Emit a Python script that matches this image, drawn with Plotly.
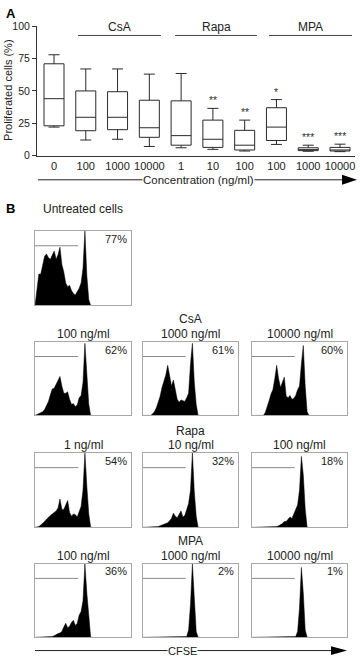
import plotly.graph_objects as go

W, H = 360, 660
FONT = "Liberation Sans, Arial, sans-serif"
INK = "#222222"

# ---------------- Panel A data ----------------
conc_labels = ["0", "100", "1000", "10000", "1", "10", "100", "100", "1000", "10000"]
box_min = [22, 12, 12.6, 7, 6, 4.8, 3.5, 8.6, 3.3, 3]
box_q1 = [23, 19.2, 20, 14.1, 8, 6.3, 4.3, 11.6, 3.8, 3.5]
box_median = [44, 29.6, 29.6, 21.5, 15.4, 12.6, 8, 22, 4.3, 4.3]
box_q3 = [71, 50, 49.4, 42.8, 42.3, 27.4, 19.5, 37, 6, 6.3]
box_max = [78, 67, 67, 63, 63.5, 36.5, 27.4, 43.3, 8, 8.8]
significance = ["", "", "", "", "", "**", "**", "*", "***", "***"]
y_ticks = [0, 25, 50, 75, 100]
groups = ["CsA", "Rapa", "MPA"]

# ---------------- Panel B data ----------------
cfse_bins = [0, 2, 4, 6, 8, 10, 12, 14, 16, 18, 20, 22, 24, 26, 28, 30,
             32, 34, 36, 38, 40, 42, 44, 46, 48, 50, 52, 54, 56, 58, 60]
hist_untreated = [0, 25, 42, 42, 55, 66, 69, 64, 62, 68, 73, 62, 68, 78, 55, 45,
                  30, 25, 27, 20, 16, 14, 18, 23, 30, 50, 100, 40, 8, 0, 0]
hist_csa_100 = [0, 1, 2, 3, 5, 8, 13, 19, 28, 36, 37, 42, 46, 53, 40, 30,
                30, 32, 22, 15, 16, 12, 14, 24, 27, 45, 98, 50, 15, 0, 0]
hist_csa_1000 = [0, 0, 0, 0, 0, 2, 5, 10, 17, 26, 38, 46, 55, 68, 55, 40,
                 48, 36, 22, 18, 21, 20, 19, 24, 30, 70, 98, 45, 15, 0, 0]
hist_csa_10000 = [0, 0, 0, 0, 0, 0, 0, 4, 11, 20, 29, 35, 50, 68, 50, 38,
                  45, 52, 26, 24, 27, 22, 23, 27, 35, 40, 70, 95, 40, 5, 0]
hist_rapa_1 = [0, 0, 1, 3, 5, 8, 11, 14, 16, 18, 20, 22, 26, 38, 24, 24,
               30, 36, 20, 15, 18, 17, 14, 21, 28, 50, 100, 55, 18, 0, 0]
hist_rapa_10 = [0, 0, 0, 0, 0, 0, 0, 0, 1, 2, 3, 4, 5, 6, 9, 12,
                19, 15, 13, 18, 22, 14, 16, 24, 32, 50, 100, 48, 15, 0, 0]
hist_rapa_100 = [0, 0, 0, 0, 0, 0, 0, 0, 0, 0, 0, 0, 1, 1, 2, 3,
                 5, 8, 8, 11, 14, 12, 18, 22, 30, 50, 95, 70, 25, 0, 0]
hist_mpa_100 = [0, 0, 0, 0, 0, 0, 0, 0, 0, 1, 2, 4, 5, 6, 8, 14,
                19, 13, 15, 20, 23, 16, 19, 30, 35, 50, 100, 60, 25, 0, 0]
hist_mpa_1000 = [0, 0, 0, 0, 0, 0, 0, 0, 0, 0, 0, 0, 0, 0, 0, 0,
                 0, 0, 0, 0, 0, 0, 0, 1, 10, 45, 100, 50, 8, 0, 0]
hist_mpa_10000 = [0, 0, 0, 0, 0, 0, 0, 0, 0, 0, 0, 0, 0, 0, 0, 0,
                  0, 0, 0, 0, 0, 0, 0, 1, 8, 40, 95, 60, 10, 0, 0]
hist_percent = ["77%", "62%", "61%", "60%", "54%", "32%", "18%", "36%", "2%", "1%"]
hist_titles = ["Untreated cells", "100 ng/ml", "1000 ng/ml", "10000 ng/ml",
               "1 ng/ml", "10 ng/ml", "100 ng/ml", "100 ng/ml", "1000 ng/ml", "10000 ng/ml"]
histograms = [hist_untreated, hist_csa_100, hist_csa_1000, hist_csa_10000,
              hist_rapa_1, hist_rapa_10, hist_rapa_100,
              hist_mpa_100, hist_mpa_1000, hist_mpa_10000]


def px_x(p):
    return p / W


def px_y(p):
    return 1 - p / H


fig = go.Figure()
annotations = []
shapes = []

# ---------------- Panel A layout ----------------
ax_left, ax_right = 37, 355
ax_top, ax_bottom = 20.7, 152.3
first_px, last_px = 54, 340
n = len(conc_labels)
unit = (last_px - first_px) / (n - 1)
x_range = [-(first_px - ax_left) / unit, (n - 1) + (ax_right - last_px) / unit]
positions = list(range(n))

fig.add_trace(go.Box(
    x=positions, q1=box_q1, median=box_median, q3=box_q3,
    lowerfence=box_min, upperfence=box_max,
    width=20 / unit, whiskerwidth=0.55,
    line=dict(color="#2a2a2a", width=1), fillcolor="white",
    boxpoints=False, showlegend=False, hoverinfo="skip",
    xaxis="x", yaxis="y",
))

for i, s in enumerate(significance):
    if s:
        annotations.append(dict(
            x=positions[i], y=box_max[i], xref="x", yref="y", text=s,
            showarrow=False, yanchor="bottom", yshift=0,
            font=dict(size=10.5, color="#333333", family=FONT)))

layout = dict(
    width=W, height=H, margin=dict(l=0, r=0, t=0, b=0),
    paper_bgcolor="white", plot_bgcolor="white", showlegend=False,
    font=dict(family=FONT, color=INK, size=11),
    xaxis=dict(domain=[px_x(ax_left), px_x(ax_right)], anchor="y",
               range=x_range, tickvals=positions, ticktext=conc_labels,
               ticks="", showline=True, linecolor="#333333", linewidth=1,
               showgrid=False, zeroline=False,
               tickfont=dict(size=11, color=INK, family=FONT)),
    yaxis=dict(domain=[px_y(ax_bottom), px_y(ax_top)], anchor="x",
               range=[0, 100], tickvals=y_ticks, ticks="outside", ticklen=4,
               tickcolor="#333333", showline=True, linecolor="#333333",
               linewidth=1, showgrid=False, zeroline=False,
               tickfont=dict(size=10.5, color=INK, family=FONT)),
)

# group headers with lines
group_spans = [(78, 161), (175, 257), (269, 352)]
for g, (a, b) in zip(groups, group_spans):
    shapes.append(dict(type="line", xref="paper", yref="paper",
                       x0=px_x(a), x1=px_x(b), y0=px_y(30), y1=px_y(30),
                       line=dict(color="#444444", width=1)))
    annotations.append(dict(x=px_x((a + b) / 2), y=px_y(21.5), xref="paper", yref="paper",
                            text=g, showarrow=False, xanchor="center", yanchor="middle",
                            font=dict(size=12, color=INK, family=FONT)))

# concentration arrow
shapes.append(dict(type="line", xref="paper", yref="paper",
                   x0=px_x(38), x1=px_x(345), y0=px_y(177), y1=px_y(177),
                   line=dict(color="#222222", width=1)))
shapes.append(dict(type="path", xref="paper", yref="paper",
                   path=f"M {px_x(342)},{px_y(172)} L {px_x(357)},{px_y(177)} L {px_x(342)},{px_y(182)} Z",
                   fillcolor="black", line=dict(color="black", width=0)))
annotations.append(dict(x=px_x(198), y=px_y(177), xref="paper", yref="paper",
                        text="Concentration (ng/ml)", showarrow=False, bgcolor="white",
                        xanchor="center", yanchor="middle", borderpad=0,
                        font=dict(size=11.5, color=INK, family=FONT)))
annotations.append(dict(x=px_x(8), y=px_y(86.5), xref="paper", yref="paper",
                        text="Proliferated cells (%)", showarrow=False, textangle=-90,
                        xanchor="center", yanchor="middle",
                        font=dict(size=11, color=INK, family=FONT)))
annotations.append(dict(x=px_x(4), y=px_y(8), xref="paper", yref="paper",
                        text="<b>A</b>", showarrow=False, xanchor="left", yanchor="middle",
                        font=dict(size=13, color="black", family=FONT)))

# ---------------- Panel B ----------------
cols = [(35, 131), (143, 238), (252, 347)]
rows = [(229, 305), (342, 417), (455, 531), (568, 643)]
cells = [(0, 0), (1, 0), (1, 1), (1, 2), (2, 0), (2, 1), (2, 2), (3, 0), (3, 1), (3, 2)]

for k, (hist, (r, c)) in enumerate(zip(histograms, cells)):
    idx = k + 2
    xa, ya = f"x{idx}", f"y{idx}"
    left, right = cols[c]
    top, bottom = rows[r]
    layout[f"xaxis{idx}"] = dict(domain=[px_x(left), px_x(right)], anchor=ya, range=[0, 100],
                                 showline=True, mirror=True, linecolor="#a8a8a8", linewidth=1,
                                 showticklabels=False, ticks="", showgrid=False, zeroline=False)
    layout[f"yaxis{idx}"] = dict(domain=[px_y(bottom), px_y(top)], anchor=xa, range=[0, 100],
                                 showline=True, mirror=True, linecolor="#a8a8a8", linewidth=1,
                                 showticklabels=False, ticks="", showgrid=False, zeroline=False)
    fig.add_trace(go.Scatter(x=cfse_bins, y=hist, xaxis=xa, yaxis=ya, mode="lines",
                             fill="tozeroy", fillcolor="black",
                             line=dict(color="black", width=0.5),
                             hoverinfo="skip", showlegend=False))
    shapes.append(dict(type="line", xref=xa, yref=ya, x0=0, x1=45, y0=80, y1=80,
                       line=dict(color="#8a8a8a", width=1)))
    annotations.append(dict(x=0.975, y=0.895, xref=f"{xa} domain", yref=f"{ya} domain",
                            text=hist_percent[k], showarrow=False, xanchor="right",
                            yanchor="middle", font=dict(size=11, color=INK, family=FONT)))
    title_y = 207 if k == 0 else top - 8
    annotations.append(dict(x=px_x((left + right) / 2), y=px_y(title_y), xref="paper", yref="paper",
                            text=hist_titles[k], showarrow=False, xanchor="center",
                            yanchor="middle", font=dict(size=12, color=INK, family=FONT)))

header_y = [319, 433, 545]
for g, yy in zip(groups, header_y):
    annotations.append(dict(x=px_x(190), y=px_y(yy), xref="paper", yref="paper",
                            text=g, showarrow=False, xanchor="center", yanchor="middle",
                            font=dict(size=12, color=INK, family=FONT)))

annotations.append(dict(x=px_x(4), y=px_y(206), xref="paper", yref="paper",
                        text="<b>B</b>", showarrow=False, xanchor="left", yanchor="middle",
                        font=dict(size=13, color="black", family=FONT)))

# CFSE arrow
shapes.append(dict(type="line", xref="paper", yref="paper",
                   x0=px_x(35), x1=px_x(334), y0=px_y(656.5), y1=px_y(656.5),
                   line=dict(color="#222222", width=1)))
shapes.append(dict(type="path", xref="paper", yref="paper",
                   path=f"M {px_x(331)},{px_y(652)} L {px_x(347)},{px_y(656.5)} L {px_x(331)},{px_y(661)} Z",
                   fillcolor="black", line=dict(color="black", width=0)))
annotations.append(dict(x=px_x(182), y=px_y(656.5), xref="paper", yref="paper",
                        text="CFSE", showarrow=False, bgcolor="white",
                        xanchor="center", yanchor="middle", borderpad=0,
                        font=dict(size=11, color=INK, family=FONT)))

layout["annotations"] = annotations
layout["shapes"] = shapes
fig.update_layout(**layout)
fig.write_html(
    "out.html",
    config={"displayModeBar": False, "staticPlot": True},
    post_script="document.body.style.margin='0';document.body.style.padding='0';"
                "document.body.style.overflow='hidden';"
                "document.documentElement.style.overflow='hidden';",
)
